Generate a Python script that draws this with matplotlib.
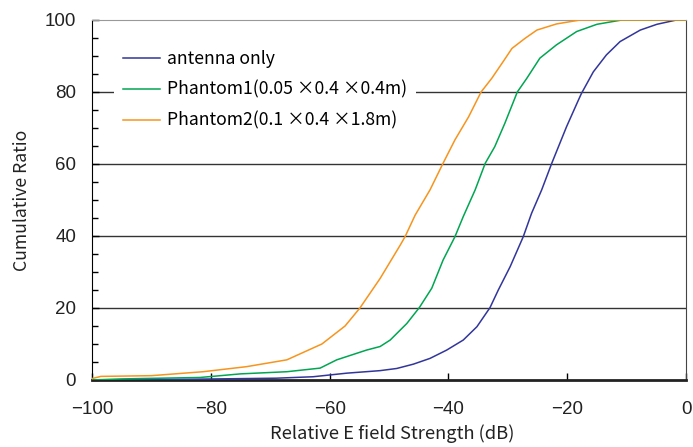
import matplotlib
matplotlib.use("Agg")
import matplotlib.pyplot as plt
from matplotlib.ticker import MultipleLocator

plt.rcParams['font.family'] = ['Noto Sans CJK JP', 'DejaVu Sans']

# Data (x: relative E field strength dB, y: cumulative ratio %)
antenna_x = [-100, -84, -69, -62.8, -57.1, -51.5, -48.7, -45.9, -43.1, -40.3, -37.5, -35.2,
             -33.0, -31.6, -29.6, -27.4, -26.0, -24.3, -22.6, -20.1, -18.1, -17.6, -15.6,
             -13.4, -11.1, -7.7, -4.9, -1.6, 0]
antenna_y = [0, 0.2, 0.5, 0.9, 1.9, 2.6, 3.2, 4.4, 6.0, 8.3, 11.1, 14.8,
             20.1, 25, 31.5, 39.8, 46.3, 52.8, 60.2, 70.4, 77.8, 79.6, 85.6,
             90.3, 94.0, 97.2, 98.8, 100, 100]

phantom1_x = [-100, -95, -81.8, -75, -67.2, -61.6, -58.8, -53.8, -51.5, -49.8, -47.0, -44.9,
              -42.8, -40.9, -38.9, -37.5, -35.5, -33.8, -32.2, -30.5, -28.4, -26.8, -24.6,
              -21.8, -18.4, -15.0, -10.8, 0]
phantom1_y = [0, 0.3, 0.7, 1.7, 2.3, 3.3, 5.6, 8.3, 9.3, 11.1, 15.7, 20.1,
              25.5, 33.3, 39.8, 45.4, 52.8, 60.2, 64.8, 71.3, 80, 83.8, 89.4,
              93.1, 96.8, 98.8, 100, 100]

phantom2_x = [-100, -98.5, -90, -81.3, -74, -67.2, -61.3, -57.4, -54.9, -51.5, -48.1, -47.3,
              -45.6, -43.1, -40.9, -38.9, -36.6, -34.5, -32.7, -30.8, -29.3, -27.1, -25.1,
              -21.8, -17.8, 0]
phantom2_y = [0.4, 1.0, 1.2, 2.3, 3.7, 5.6, 10, 15, 20, 28.2, 37.5, 39.8,
              45.8, 52.8, 60.2, 66.7, 73.1, 80, 83.8, 88.4, 92.1, 94.9, 97.2,
              98.9, 100, 100]

labels = ["antenna only", "Phantom1(0.05 ×0.4 ×0.4m)", "Phantom2(0.1 ×0.4 ×1.8m)"]
colors = ["#32369A", "#00A651", "#F7941D"]

fig = plt.figure(figsize=(6.93, 4.47), dpi=100)
ax = fig.add_axes([0.1328, 0.1499, 0.8571, 0.8054])

for y in [20, 40, 60, 80]:
    ax.axhline(y, color="#333333", lw=1.0, zorder=1)

ax.plot(antenna_x, antenna_y, color=colors[0], lw=1.1, label=labels[0], zorder=3)
ax.plot(phantom1_x, phantom1_y, color=colors[1], lw=1.1, label=labels[1], zorder=3)
ax.plot(phantom2_x, phantom2_y, color=colors[2], lw=1.1, label=labels[2], zorder=3)

ax.set_xlim(-100, 0)
ax.set_ylim(0, 100)
ax.xaxis.set_major_locator(MultipleLocator(20))
ax.yaxis.set_major_locator(MultipleLocator(20))
ax.yaxis.set_minor_locator(MultipleLocator(5))
ax.tick_params(axis='both', which='major', direction='in', length=5, width=1,
               labelsize=13.5, color='black')
ax.tick_params(axis='y', which='minor', direction='in', length=4, width=1)
ax.tick_params(axis='x', pad=15)
ax.tick_params(axis='y', pad=11.5)
for lab in ax.get_xticklabels() + ax.get_yticklabels():
    lab.set_fontfamily(['Liberation Sans', 'DejaVu Sans'])
    lab.set_color('#222222')

ax.spines['left'].set_color('black')
ax.spines['bottom'].set_color('#222222')
ax.spines['bottom'].set_linewidth(2)
ax.spines['top'].set_color('#999999')
ax.spines['right'].set_color('#444444')

ax.set_xlabel("Relative E field Strength (dB)", fontsize=13.2, color='#222222')
ax.xaxis.set_label_coords(0.505, -0.122)
ax.set_ylabel("Cumulative Ratio", fontsize=12.7, color='#222222')
ax.yaxis.set_label_coords(-0.103, 0.5)

leg = ax.legend(loc='upper left', bbox_to_anchor=(0.037, 0.942), frameon=True,
                fontsize=12.7, handlelength=2.1, handletextpad=0.4,
                labelspacing=0.73, borderpad=0.5, borderaxespad=0.0)
leg.get_frame().set_facecolor('white')
leg.get_frame().set_edgecolor('none')
leg.get_frame().set_alpha(1)
leg.set_zorder(5)

fig.savefig("out.png", dpi=100)
